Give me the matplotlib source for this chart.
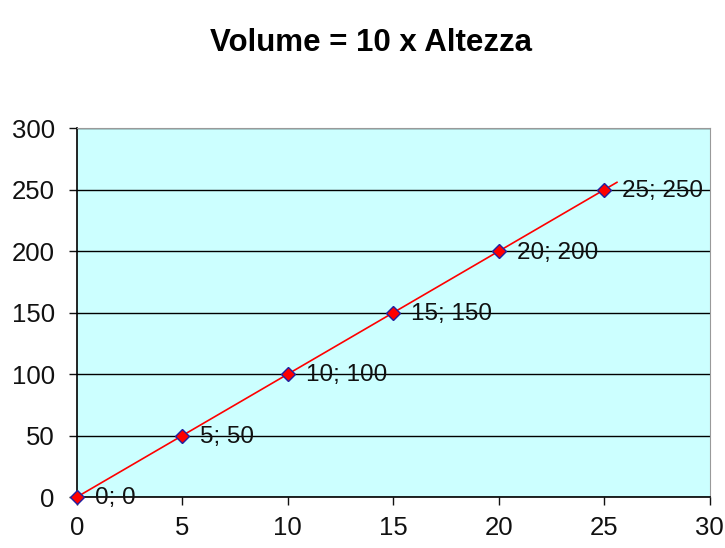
import numpy as np
from matplotlib import pyplot as plt

altezza = [0, 5, 10, 15, 20, 25]
volume = [0, 50, 100, 150, 200, 250]
xticks = [0, 5, 10, 15, 20, 25, 30]
yticks = [0, 50, 100, 150, 200, 250, 300]

plt.rcParams['font.family'] = ['Liberation Sans', 'DejaVu Sans']

fig = plt.figure(figsize=(7.25, 5.48), dpi=100)
ax = fig.add_axes([0.106, 0.093, 0.873, 0.673])
ax.set_facecolor('#ccffff')

# linea di tendenza (prolungata un po' oltre l'ultimo punto)
coef = np.polyfit(altezza, volume, 1)
xt = np.array([altezza[0], altezza[-1] + 0.6])
ax.plot(xt, np.polyval(coef, xt), color='red', lw=1.2, zorder=2)

ax.plot(altezza, volume, linestyle='none', marker='D', markersize=7,
        markerfacecolor='red', markeredgecolor='#2020a0', markeredgewidth=1,
        zorder=3, clip_on=False)
for x, y in zip(altezza, volume):
    ax.annotate(f'{x}; {y}', (x, y), xytext=(13, -1), textcoords='offset points',
                va='center', ha='left', fontsize=17.5, color='#111111')

ax.set_xlim(0, 30)
ax.set_ylim(0, 300)
ax.set_xticks(xticks)
ax.set_yticks(yticks)
ax.yaxis.grid(True, color='black', lw=1)
ax.set_axisbelow(True)
ax.tick_params(direction='out', length=6, width=1, labelsize=18.5, colors='#111111')
ax.tick_params(axis='x', pad=8)
ax.tick_params(axis='y', pad=10)
for s in ['top', 'right']:
    ax.spines[s].set_color('#999999')
for s in ['left', 'bottom']:
    ax.spines[s].set_color('black')
    ax.spines[s].set_linewidth(1.2)

fig.text(0.512, 0.922, 'Volume = 10 x Altezza', ha='center', va='center',
         fontsize=22.5, fontweight='bold')

fig.savefig('out.png', dpi=100)
